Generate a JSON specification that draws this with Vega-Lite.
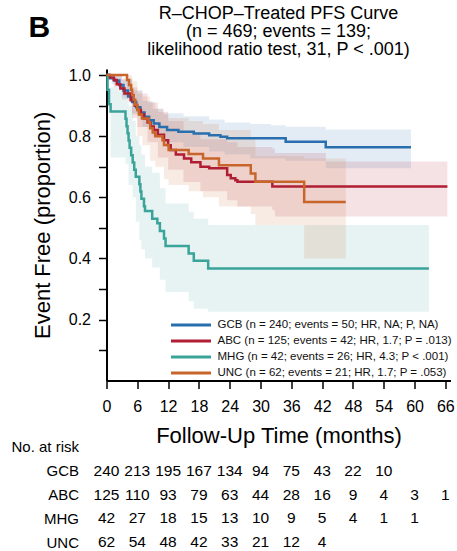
{
  "$schema": "https://vega.github.io/schema/vega-lite/v6.json",
  "padding": {"left": 10.5, "top": 5, "right": 2, "bottom": 2},
  "bounds": "flush",
  "spacing": 65.8,
  "config": {
    "font": "Liberation Sans",
    "view": {"stroke": null},
    "axis": {"domainColor": "#000", "tickColor": "#000", "labelColor": "#000", "titleColor": "#000", "grid": false}
  },
  "resolve": {"scale": {"x": "independent", "y": "independent", "stroke": "independent", "fill": "independent"}, "legend": {"stroke": "independent", "fill": "independent"}},
  "datasets": {
    "km": [
      {"group": "GCB", "t": 0, "s": 1}, {"group": "GCB", "t": 0.7, "s": 0.99}, {"group": "GCB", "t": 1.5, "s": 0.982}, {"group": "GCB", "t": 2.5, "s": 0.968}, {"group": "GCB", "t": 3.3, "s": 0.95}, {"group": "GCB", "t": 4.2, "s": 0.93}, {"group": "GCB", "t": 5, "s": 0.912}, {"group": "GCB", "t": 5.8, "s": 0.895}, {"group": "GCB", "t": 6.6, "s": 0.878}, {"group": "GCB", "t": 7.4, "s": 0.864}, {"group": "GCB", "t": 8.3, "s": 0.852}, {"group": "GCB", "t": 9.2, "s": 0.842}, {"group": "GCB", "t": 10.3, "s": 0.83}, {"group": "GCB", "t": 11.8, "s": 0.82}, {"group": "GCB", "t": 14, "s": 0.815}, {"group": "GCB", "t": 17, "s": 0.809}, {"group": "GCB", "t": 20, "s": 0.803}, {"group": "GCB", "t": 22.2, "s": 0.798}, {"group": "GCB", "t": 23.5, "s": 0.793}, {"group": "GCB", "t": 34.9, "s": 0.782}, {"group": "GCB", "t": 42.7, "s": 0.764}, {"group": "GCB", "t": 59.3, "s": 0.764},
      {"group": "ABC", "t": 0, "s": 1}, {"group": "ABC", "t": 0.5, "s": 0.992}, {"group": "ABC", "t": 1.4, "s": 0.984}, {"group": "ABC", "t": 2, "s": 0.97}, {"group": "ABC", "t": 2.7, "s": 0.956}, {"group": "ABC", "t": 3.5, "s": 0.94}, {"group": "ABC", "t": 4.7, "s": 0.918}, {"group": "ABC", "t": 5.5, "s": 0.9}, {"group": "ABC", "t": 6, "s": 0.886}, {"group": "ABC", "t": 6.7, "s": 0.872}, {"group": "ABC", "t": 7.3, "s": 0.858}, {"group": "ABC", "t": 8, "s": 0.845}, {"group": "ABC", "t": 8.6, "s": 0.832}, {"group": "ABC", "t": 9.2, "s": 0.82}, {"group": "ABC", "t": 10, "s": 0.805}, {"group": "ABC", "t": 11.2, "s": 0.787}, {"group": "ABC", "t": 12, "s": 0.77}, {"group": "ABC", "t": 12.5, "s": 0.755}, {"group": "ABC", "t": 13.5, "s": 0.74}, {"group": "ABC", "t": 15.1, "s": 0.727}, {"group": "ABC", "t": 16.5, "s": 0.715}, {"group": "ABC", "t": 18.3, "s": 0.7}, {"group": "ABC", "t": 20, "s": 0.695}, {"group": "ABC", "t": 23.5, "s": 0.673}, {"group": "ABC", "t": 24.2, "s": 0.662}, {"group": "ABC", "t": 25.1, "s": 0.656}, {"group": "ABC", "t": 25.5, "s": 0.651}, {"group": "ABC", "t": 32.3, "s": 0.635}, {"group": "ABC", "t": 66.4, "s": 0.635},
      {"group": "MHG", "t": 0, "s": 1}, {"group": "MHG", "t": 0.2, "s": 0.952}, {"group": "MHG", "t": 0.5, "s": 0.905}, {"group": "MHG", "t": 0.8, "s": 0.881}, {"group": "MHG", "t": 3.7, "s": 0.857}, {"group": "MHG", "t": 3.9, "s": 0.833}, {"group": "MHG", "t": 4.1, "s": 0.81}, {"group": "MHG", "t": 4.3, "s": 0.786}, {"group": "MHG", "t": 4.5, "s": 0.762}, {"group": "MHG", "t": 4.8, "s": 0.738}, {"group": "MHG", "t": 5.1, "s": 0.714}, {"group": "MHG", "t": 5.4, "s": 0.69}, {"group": "MHG", "t": 5.7, "s": 0.667}, {"group": "MHG", "t": 6.4, "s": 0.643}, {"group": "MHG", "t": 6.6, "s": 0.619}, {"group": "MHG", "t": 6.8, "s": 0.595}, {"group": "MHG", "t": 7.3, "s": 0.571}, {"group": "MHG", "t": 7.5, "s": 0.555}, {"group": "MHG", "t": 8.9, "s": 0.53}, {"group": "MHG", "t": 9.9, "s": 0.515}, {"group": "MHG", "t": 10.4, "s": 0.49}, {"group": "MHG", "t": 11.2, "s": 0.465}, {"group": "MHG", "t": 11.5, "s": 0.441}, {"group": "MHG", "t": 16, "s": 0.416}, {"group": "MHG", "t": 17, "s": 0.392}, {"group": "MHG", "t": 19.8, "s": 0.367}, {"group": "MHG", "t": 62.8, "s": 0.367},
      {"group": "UNC", "t": 0, "s": 1}, {"group": "UNC", "t": 4, "s": 0.984}, {"group": "UNC", "t": 4.4, "s": 0.968}, {"group": "UNC", "t": 4.8, "s": 0.952}, {"group": "UNC", "t": 5, "s": 0.935}, {"group": "UNC", "t": 5.3, "s": 0.919}, {"group": "UNC", "t": 5.6, "s": 0.903}, {"group": "UNC", "t": 6, "s": 0.887}, {"group": "UNC", "t": 6.3, "s": 0.871}, {"group": "UNC", "t": 6.9, "s": 0.858}, {"group": "UNC", "t": 8.2, "s": 0.845}, {"group": "UNC", "t": 8.5, "s": 0.826}, {"group": "UNC", "t": 9, "s": 0.812}, {"group": "UNC", "t": 9.5, "s": 0.8}, {"group": "UNC", "t": 10.9, "s": 0.787}, {"group": "UNC", "t": 11.2, "s": 0.771}, {"group": "UNC", "t": 12.1, "s": 0.755}, {"group": "UNC", "t": 16, "s": 0.742}, {"group": "UNC", "t": 18.8, "s": 0.727}, {"group": "UNC", "t": 21.9, "s": 0.705}, {"group": "UNC", "t": 28.1, "s": 0.678}, {"group": "UNC", "t": 29, "s": 0.651}, {"group": "UNC", "t": 38.5, "s": 0.585}, {"group": "UNC", "t": 46.6, "s": 0.585}
    ],
    "bands": [
      {"group": "GCB", "t": 0, "lo": 1, "hi": 1}, {"group": "GCB", "t": 1, "lo": 0.97, "hi": 1}, {"group": "GCB", "t": 3, "lo": 0.93, "hi": 0.985}, {"group": "GCB", "t": 5, "lo": 0.875, "hi": 0.95}, {"group": "GCB", "t": 7, "lo": 0.83, "hi": 0.915}, {"group": "GCB", "t": 9, "lo": 0.8, "hi": 0.89}, {"group": "GCB", "t": 11, "lo": 0.78, "hi": 0.875}, {"group": "GCB", "t": 15, "lo": 0.765, "hi": 0.865}, {"group": "GCB", "t": 20, "lo": 0.75, "hi": 0.855}, {"group": "GCB", "t": 23, "lo": 0.74, "hi": 0.845}, {"group": "GCB", "t": 28, "lo": 0.727, "hi": 0.84}, {"group": "GCB", "t": 32, "lo": 0.727, "hi": 0.836}, {"group": "GCB", "t": 34.9, "lo": 0.72, "hi": 0.831}, {"group": "GCB", "t": 42.7, "lo": 0.695, "hi": 0.822}, {"group": "GCB", "t": 59.3, "lo": 0.695, "hi": 0.822},
      {"group": "ABC", "t": 0, "lo": 1, "hi": 1}, {"group": "ABC", "t": 1.4, "lo": 0.96, "hi": 1}, {"group": "ABC", "t": 3, "lo": 0.92, "hi": 0.99}, {"group": "ABC", "t": 5, "lo": 0.86, "hi": 0.96}, {"group": "ABC", "t": 6, "lo": 0.83, "hi": 0.94}, {"group": "ABC", "t": 8, "lo": 0.78, "hi": 0.91}, {"group": "ABC", "t": 10, "lo": 0.73, "hi": 0.88}, {"group": "ABC", "t": 12, "lo": 0.69, "hi": 0.85}, {"group": "ABC", "t": 15, "lo": 0.65, "hi": 0.81}, {"group": "ABC", "t": 18.3, "lo": 0.62, "hi": 0.79}, {"group": "ABC", "t": 23.5, "lo": 0.59, "hi": 0.78}, {"group": "ABC", "t": 25.5, "lo": 0.57, "hi": 0.765}, {"group": "ABC", "t": 32.3, "lo": 0.558, "hi": 0.76}, {"group": "ABC", "t": 32.8, "lo": 0.537, "hi": 0.745}, {"group": "ABC", "t": 42.7, "lo": 0.537, "hi": 0.717}, {"group": "ABC", "t": 66.4, "lo": 0.537, "hi": 0.717},
      {"group": "MHG", "t": 0, "lo": 1, "hi": 1}, {"group": "MHG", "t": 0.8, "lo": 0.73, "hi": 0.96}, {"group": "MHG", "t": 3.7, "lo": 0.71, "hi": 0.95}, {"group": "MHG", "t": 4.3, "lo": 0.64, "hi": 0.9}, {"group": "MHG", "t": 5.1, "lo": 0.6, "hi": 0.85}, {"group": "MHG", "t": 5.7, "lo": 0.52, "hi": 0.8}, {"group": "MHG", "t": 6.4, "lo": 0.46, "hi": 0.77}, {"group": "MHG", "t": 6.8, "lo": 0.43, "hi": 0.74}, {"group": "MHG", "t": 7.5, "lo": 0.4, "hi": 0.7}, {"group": "MHG", "t": 8.9, "lo": 0.37, "hi": 0.68}, {"group": "MHG", "t": 10.4, "lo": 0.33, "hi": 0.63}, {"group": "MHG", "t": 11.5, "lo": 0.29, "hi": 0.58}, {"group": "MHG", "t": 16, "lo": 0.26, "hi": 0.553}, {"group": "MHG", "t": 17, "lo": 0.235, "hi": 0.53}, {"group": "MHG", "t": 19.8, "lo": 0.225, "hi": 0.509}, {"group": "MHG", "t": 62.8, "lo": 0.225, "hi": 0.509},
      {"group": "UNC", "t": 0, "lo": 1, "hi": 1}, {"group": "UNC", "t": 4, "lo": 0.95, "hi": 1}, {"group": "UNC", "t": 5, "lo": 0.87, "hi": 0.98}, {"group": "UNC", "t": 6, "lo": 0.8, "hi": 0.95}, {"group": "UNC", "t": 7, "lo": 0.77, "hi": 0.93}, {"group": "UNC", "t": 8.5, "lo": 0.72, "hi": 0.91}, {"group": "UNC", "t": 9.5, "lo": 0.7, "hi": 0.89}, {"group": "UNC", "t": 11.2, "lo": 0.66, "hi": 0.87}, {"group": "UNC", "t": 12.1, "lo": 0.64, "hi": 0.86}, {"group": "UNC", "t": 16, "lo": 0.62, "hi": 0.85}, {"group": "UNC", "t": 18.8, "lo": 0.6, "hi": 0.84}, {"group": "UNC", "t": 21.9, "lo": 0.57, "hi": 0.82}, {"group": "UNC", "t": 28.1, "lo": 0.545, "hi": 0.79}, {"group": "UNC", "t": 29, "lo": 0.509, "hi": 0.735}, {"group": "UNC", "t": 38.5, "lo": 0.4, "hi": 0.727}, {"group": "UNC", "t": 46.6, "lo": 0.4, "hi": 0.727}
    ],
    "risk": [
      {"group": "GCB", "t": 0, "n": 240}, {"group": "GCB", "t": 6, "n": 213}, {"group": "GCB", "t": 12, "n": 195}, {"group": "GCB", "t": 18, "n": 167}, {"group": "GCB", "t": 24, "n": 134}, {"group": "GCB", "t": 30, "n": 94}, {"group": "GCB", "t": 36, "n": 75}, {"group": "GCB", "t": 42, "n": 43}, {"group": "GCB", "t": 48, "n": 22}, {"group": "GCB", "t": 54, "n": 10},
      {"group": "ABC", "t": 0, "n": 125}, {"group": "ABC", "t": 6, "n": 110}, {"group": "ABC", "t": 12, "n": 93}, {"group": "ABC", "t": 18, "n": 79}, {"group": "ABC", "t": 24, "n": 63}, {"group": "ABC", "t": 30, "n": 44}, {"group": "ABC", "t": 36, "n": 28}, {"group": "ABC", "t": 42, "n": 16}, {"group": "ABC", "t": 48, "n": 9}, {"group": "ABC", "t": 54, "n": 4}, {"group": "ABC", "t": 60, "n": 3}, {"group": "ABC", "t": 66, "n": 1},
      {"group": "MHG", "t": 0, "n": 42}, {"group": "MHG", "t": 6, "n": 27}, {"group": "MHG", "t": 12, "n": 18}, {"group": "MHG", "t": 18, "n": 15}, {"group": "MHG", "t": 24, "n": 13}, {"group": "MHG", "t": 30, "n": 10}, {"group": "MHG", "t": 36, "n": 9}, {"group": "MHG", "t": 42, "n": 5}, {"group": "MHG", "t": 48, "n": 4}, {"group": "MHG", "t": 54, "n": 1}, {"group": "MHG", "t": 60, "n": 1},
      {"group": "UNC", "t": 0, "n": 62}, {"group": "UNC", "t": 6, "n": 54}, {"group": "UNC", "t": 12, "n": 48}, {"group": "UNC", "t": 18, "n": 42}, {"group": "UNC", "t": 24, "n": 33}, {"group": "UNC", "t": 30, "n": 21}, {"group": "UNC", "t": 36, "n": 12}, {"group": "UNC", "t": 42, "n": 4}
    ]
  },
  "vconcat": [
    {
      "width": 344,
      "height": 311.6,
      "title": {
        "text": ["R–CHOP–Treated PFS Curve", "(n = 469; events = 139;", "likelihood ratio test, 31, P < .001)"],
        "fontSize": 18, "fontWeight": "normal", "lineHeight": 18, "offset": -46, "anchor": "middle", "color": "#000"
      },
      "layer": [
        {
          "data": {"name": "bands"},
          "mark": {"type": "area", "interpolate": "step-after", "opacity": 0.13},
          "encoding": {
            "x": {"field": "t", "type": "quantitative", "scale": {"domain": [0, 67], "nice": false},
              "axis": {"values": [0, 6, 12, 18, 24, 30, 36, 42, 48, 54, 60, 66], "tickCount": 30, "title": "Follow-Up Time (months)", "titleFontSize": 22, "titleFontWeight": "normal", "titlePadding": 11, "labelFontSize": 16, "tickSize": 8, "tickWidth": 1.5, "domainWidth": 2, "labelPadding": 10, "labelFlush": false, "labelOverlap": false}},
            "y": {"field": "lo", "type": "quantitative", "scale": {"domain": [0, 1.02], "nice": false},
              "axis": {"values": [0.1, 0.2, 0.3, 0.4, 0.5, 0.6, 0.7, 0.8, 0.9, 1.0], "tickCount": 30, "labelExpr": "round(datum.value*10) % 2 == 0 ? format(datum.value, '.1f') : ''", "title": "Event Free (proportion)", "titleFontSize": 22, "titleFontWeight": "normal", "titlePadding": 14, "labelFontSize": 16, "tickSize": 8, "tickWidth": 1.5, "domainWidth": 2, "labelPadding": 8, "labelOverlap": false}},
            "y2": {"field": "hi"},
            "fill": {"field": "group", "type": "nominal", "scale": {"range": ["#b01e33", "#2a6fad", "#3aa39a", "#c8652a"]}, "legend": null}
          }
        },
        {
          "data": {"name": "km"},
          "mark": {"type": "line", "interpolate": "step-after", "strokeWidth": 2.5},
          "encoding": {
            "x": {"field": "t", "type": "quantitative"},
            "y": {"field": "s", "type": "quantitative"},
            "stroke": {"field": "group", "type": "nominal", "scale": {"domain": ["GCB", "ABC", "MHG", "UNC"], "range": ["#2a6fad", "#b01e33", "#3aa39a", "#c8652a"]},
              "legend": {"orient": "none", "legendX": 78, "legendY": 249.5, "title": null, "symbolType": "M-4,0H4", "symbolSize": 100, "symbolStrokeWidth": 3, "labelFontSize": 11.5, "labelColor": "#111", "labelOffset": 20, "labelLimit": 400, "rowPadding": 3,
                "labelExpr": "datum.label == 'GCB' ? 'GCB (n = 240; events = 50; HR, NA; P, NA)' : datum.label == 'ABC' ? 'ABC (n = 125; events = 42; HR, 1.7; P = .013)' : datum.label == 'MHG' ? 'MHG (n = 42; events = 26; HR, 4.3; P < .001)' : 'UNC (n = 62; events = 21; HR, 1.7; P = .053)'"}}
          }
        },
        {
          "data": {"values": [{"label": "B"}]},
          "mark": {"type": "text", "fontSize": 30, "fontWeight": "bold", "align": "center", "baseline": "middle", "color": "#000"},
          "encoding": {
            "x": {"datum": -13.1, "type": "quantitative"},
            "y": {"datum": 1.153, "type": "quantitative"},
            "text": {"field": "label"}
          }
        }
      ]
    },
    {
      "width": 344,
      "height": 95.5,
      "data": {"name": "risk"},
      "mark": {"type": "text", "fontSize": 15.5, "color": "#000", "baseline": "middle"},
      "encoding": {
        "x": {"field": "t", "type": "quantitative", "scale": {"domain": [0, 67], "nice": false}, "axis": null},
        "y": {"field": "group", "type": "ordinal", "scale": {"type": "point", "domain": ["No. at risk", "GCB", "ABC", "MHG", "UNC"], "padding": 0},
          "axis": {"title": null, "domain": false, "ticks": false, "labelFontSize": 15, "labelPadding": 28, "labelColor": "#000"}},
        "text": {"field": "n"}
      }
    }
  ]
}
